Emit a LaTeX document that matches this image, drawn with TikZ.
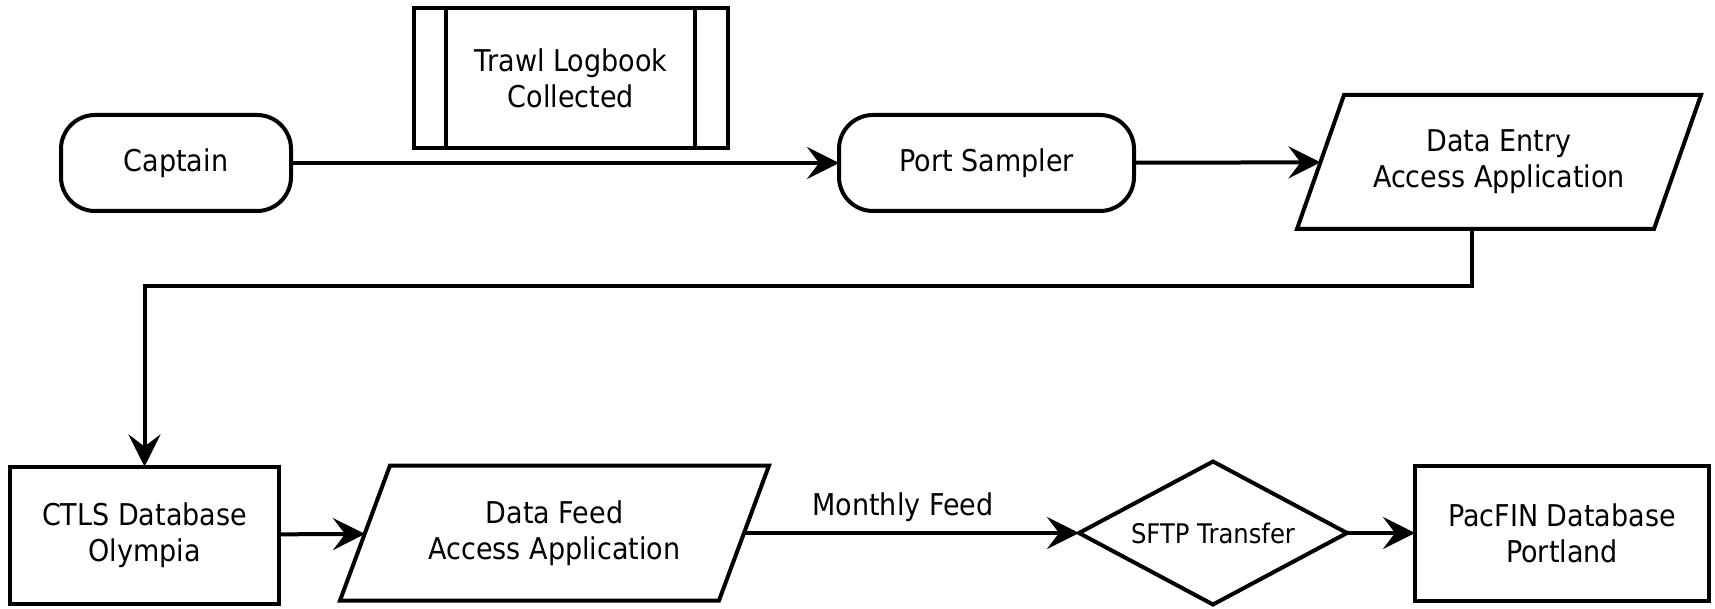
\documentclass[tikz,border=0pt]{standalone}
\usepackage{fontspec}
\setmainfont{DejaVu Sans}[FakeStretch=0.9]
\usetikzlibrary{arrows.meta,shapes.geometric}
\begin{document}
\begin{tikzpicture}[x=0.5pt,y=-0.5pt,
  every node/.style={inner sep=0pt, outer sep=0pt, align=center,
    font=\fontsize{15}{18}\selectfont},
  shp/.style={draw, line width=2pt, line join=miter},
  pill/.style={shp, rectangle, rounded corners=17pt},
  plain/.style={shp, rectangle},
  ghost/.style={rectangle, draw=none},
  decide/.style={shp, diamond, aspect=1.87, font=\fontsize{13.5}{16}\selectfont},
  arr/.style={line width=2pt, -{Stealth[length=16pt,width=16pt,inset=6pt]}},
  edge/.style={line width=2pt, line join=miter}
]
\useasboundingbox (0,0) rectangle (1715,609);

% row 1
\node[pill, minimum width=115pt, minimum height=48pt] (cap) at (176,163) {Captain};
\node[plain, minimum width=157pt, minimum height=70pt] (trawl) at (571,78) {Trawl Logbook\\Collected};
\draw[edge] ([xshift=16pt]trawl.north west) -- ([xshift=16pt]trawl.south west);
\draw[edge] ([xshift=-16.5pt]trawl.north east) -- ([xshift=-16.5pt]trawl.south east);
\node[pill, minimum width=147.5pt, minimum height=48pt] (port) at (986.5,163) {Port Sampler};
\node[ghost, minimum width=178.5pt, minimum height=67pt] (de) at (1499,162) {Data Entry\\Access Application};
\draw[edge] ([xshift=-11.75pt]de.south west) -- ([xshift=11.75pt]de.north west)
  -- ([xshift=11.75pt]de.north east) -- ([xshift=-11.75pt]de.south east) -- cycle;

% row 2
\node[plain, minimum width=134.5pt, minimum height=68.5pt] (ctls) at (144.5,535) {CTLS Database\\Olympia};
\node[ghost, minimum width=189.5pt, minimum height=67.5pt] (df) at (554.5,533) {Data Feed\\Access Application};
\draw[edge] ([xshift=-12.5pt]df.south west) -- ([xshift=12.5pt]df.north west)
  -- ([xshift=12.5pt]df.north east) -- ([xshift=-12.5pt]df.south east) -- cycle;
\node[decide, minimum width=134pt, minimum height=71.5pt] (sftp) at (1213,533) {SFTP Transfer};
\node[plain, minimum width=147pt, minimum height=67.5pt] (pac) at (1562,533) {PacFIN Database\\Portland};
\node (mf) at (903,507) {Monthly Feed};

% connectors
\draw[arr] (cap) -- (port);
\draw[arr] (port) -- (de);
\coordinate (bend) at (1472,286);
\draw[arr] (de.south -| bend) -- (bend) -| (ctls.north);
\draw[arr] (ctls) -- (df);
\draw[arr] (df) -- (sftp);
\draw[arr] (sftp) -- (pac);
\end{tikzpicture}
\end{document}
